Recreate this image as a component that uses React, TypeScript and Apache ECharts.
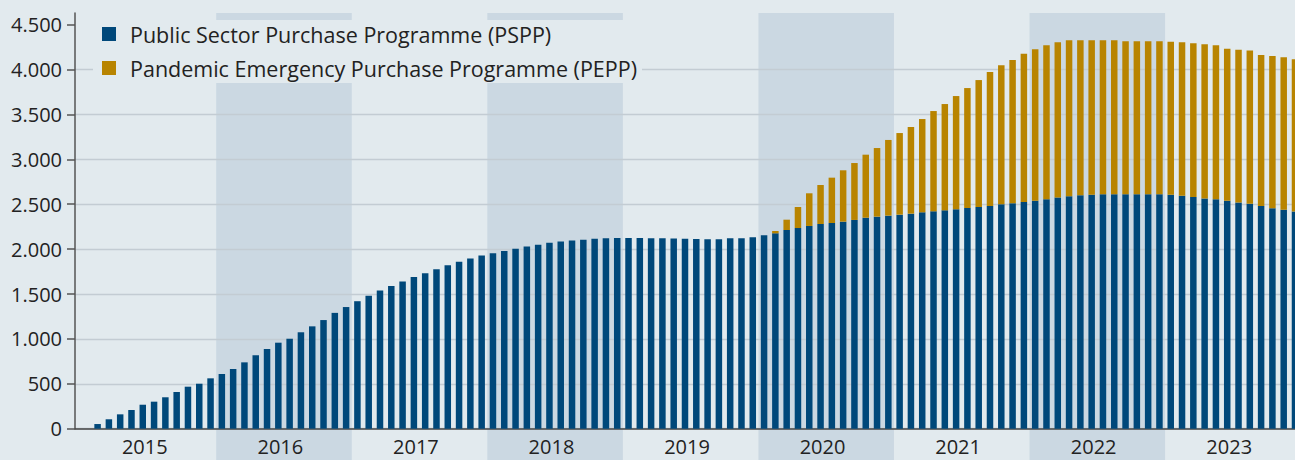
import { useEffect, useRef } from 'react';
import * as echarts from 'echarts';

// ---------- data ----------
const years = [2015, 2016, 2017, 2018, 2019, 2020, 2021, 2022, 2023];
const monthNums = ['01', '02', '03', '04', '05', '06', '07', '08', '09', '10', '11', '12'];
const monthCategories = ['2014-12', ...years.flatMap((y) => monthNums.map((m) => `${y}-${m}`))];
const shadedYears = [2016, 2018, 2020, 2022];
const yTicks = [0, 500, 1000, 1500, 2000, 2500, 3000, 3500, 4000, 4500];
const seriesNames = [
  'Public Sector Purchase Programme (PSPP)',
  'Pandemic Emergency Purchase Programme (PEPP)',
];

// monthly slots from 2014-12 to 2023-12
const psppValues: (number | null)[] = [
  null, null,
  52, 105, 160, 208, 267, 301, 350, 409, 468, 501, 561,
  609, 665, 739, 817, 888, 958, 1002, 1074, 1140, 1210, 1290, 1355,
  1420, 1480, 1540, 1590, 1640, 1690, 1730, 1775, 1820, 1860, 1895, 1930,
  1955, 1980, 2005, 2030, 2050, 2070, 2085, 2095, 2105, 2115, 2120, 2125,
  2125, 2125, 2120, 2120, 2118, 2115, 2112, 2110, 2110, 2121, 2121, 2132,
  2154, 2176, 2213, 2235, 2258, 2280, 2291, 2306, 2325, 2350, 2362, 2373,
  2384, 2395, 2410, 2421, 2432, 2444, 2458, 2469, 2481, 2500, 2510, 2525,
  2540, 2555, 2575, 2590, 2600, 2605, 2610, 2610, 2610, 2610, 2610, 2610,
  2605, 2595, 2580, 2565, 2555, 2540, 2520, 2505, 2480, 2455, 2440, 2420,
];

const peppValues: (number | null)[] = [
  null,
  null, null, null, null, null, null, null, null, null, null, null, null,
  null, null, null, null, null, null, null, null, null, null, null, null,
  null, null, null, null, null, null, null, null, null, null, null, null,
  null, null, null, null, null, null, null, null, null, null, null, null,
  null, null, null, null, null, null, null, null, null, null, null, null,
  null, 26, 115, 234, 364, 434, 505, 572, 634, 702, 764, 843,
  909, 965, 1039, 1117, 1184, 1261, 1336, 1414, 1491, 1547, 1597, 1652,
  1686, 1715, 1729, 1736, 1726, 1721, 1716, 1716, 1705, 1705, 1705, 1705,
  1706, 1709, 1713, 1716, 1715, 1693, 1702, 1706, 1683, 1696, 1696, 1694,
];

// ---------- style ----------
const BG = '#e2eaee';
const BAND = '#cbd8e2';
const PSPP_COLOR = '#00487a';
const PEPP_COLOR = '#b88400';
const TEXT = '#222222';
const FONT = '"Open Sans", "Noto Sans", sans-serif';
const Y_MAX = 4630;
const W = 1295;
const H = 460;

const fmt = (v: number) => String(v).replace(/\B(?=(\d{3})+(?!\d))/g, '.');

export default function App() {
  const ref = useRef<HTMLDivElement>(null);

  useEffect(() => {
    const chart = echarts.init(ref.current!, null, { renderer: 'svg' });
    chart.setOption({
      animation: false,
      backgroundColor: BG,
      textStyle: { fontFamily: FONT },
      grid: { left: 75, right: 0, top: 13, bottom: 31.3 },
      legend: {
        orient: 'vertical',
        left: 93,
        top: 20,
        padding: [3, 5, 4, 9],
        backgroundColor: BG,
        itemWidth: 14,
        itemHeight: 14,
        itemGap: 12,
        icon: 'rect',
        textStyle: { fontFamily: FONT, fontSize: 21.5, color: TEXT, padding: [0, 0, 0, 9] },
        data: seriesNames,
      },
      xAxis: {
        type: 'category',
        data: monthCategories,
        boundaryGap: false,
        axisLine: { show: true, lineStyle: { color: '#444', width: 1.5 } },
        axisTick: { show: false },
        splitLine: { show: false },
        axisLabel: {
          interval: (_i: number, v: string) => v.endsWith('-06'),
          formatter: (v: string) => v.slice(0, 4),
          fontFamily: FONT,
          fontSize: 20,
          color: TEXT,
          margin: 8,
          padding: [0, 0, 0, 4],
        },
      },
      yAxis: {
        type: 'value',
        min: 0,
        max: Y_MAX,
        interval: 500,
        axisLine: { show: true, lineStyle: { color: '#555', width: 1.5 } },
        axisTick: { show: true, length: 8, lineStyle: { color: '#555', width: 1.5 }, customValues: yTicks },
        axisLabel: {
          customValues: yTicks,
          formatter: (v: number) => fmt(v),
          fontFamily: FONT,
          fontSize: 20,
          color: TEXT,
          margin: 13,
        },
        splitLine: { show: true, showMaxLine: false, lineStyle: { color: '#c3ccd3', width: 1.3 } },
      },
      series: [
        {
          name: seriesNames[0],
          type: 'bar',
          stack: 'total',
          barWidth: 6.5,
          clip: false,
          itemStyle: { color: PSPP_COLOR },
          data: psppValues,
        },
        {
          name: seriesNames[1],
          type: 'bar',
          stack: 'total',
          barWidth: 6.5,
          clip: false,
          itemStyle: { color: PEPP_COLOR },
          data: peppValues,
        },
      ],
    });

    const px = (c: string) => chart.convertToPixel({ xAxisIndex: 0 }, c) as number;
    const step = px('2015-01') - px('2014-12');
    const top = chart.convertToPixel({ yAxisIndex: 0 }, Y_MAX) as number;
    const bands = shadedYears.map((y) => {
      const x0 = px(`${y - 1}-12`) + step / 2;
      const x1 = px(`${y}-12`) + step / 2;
      return {
        type: 'rect',
        z: -1,
        silent: true,
        shape: { x: x0, y: top, width: x1 - x0, height: H - top },
        style: { fill: BAND },
      };
    });
    chart.setOption({ graphic: bands });

    return () => chart.dispose();
  }, []);

  return <div ref={ref} style={{ position: 'fixed', left: 0, top: 0, width: W, height: H }} />;
}
